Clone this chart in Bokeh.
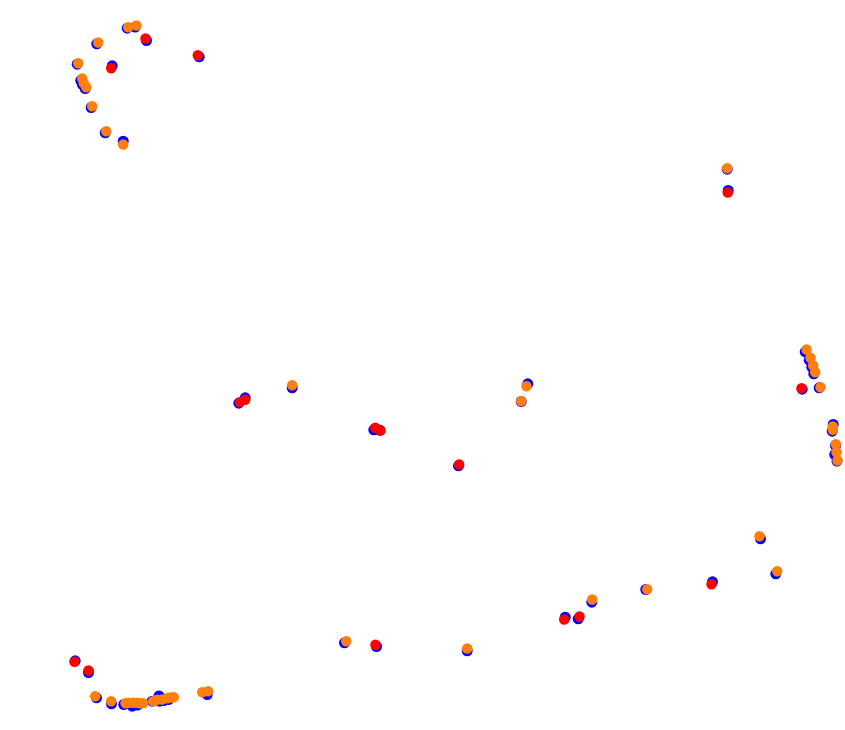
from bokeh.plotting import figure
from bokeh.models import Range1d
from bokeh.embed import file_html
from bokeh.resources import INLINE

# Reference positions (track map coordinates, y downward)
blue_x = [126.7, 134.7, 96.3, 146.0, 198.7, 76.7, 111.7, 80.3, 82.0, 84.7, 90.7, 104.7, 122.7,
          726.7, 727.7,
          804.7, 808.7, 811.3, 813.3, 801.7, 818.7, 832.7, 831.7, 835.0, 834.3, 836.5,
          238.3, 244.7, 291.7, 373.3, 379.0, 458.0, 527.3, 520.7,
          760.0, 775.3, 645.3, 712.0, 591.3, 564.7, 577.7,
          344.0, 376.0, 466.7,
          74.7, 88.0, 96.0, 111.0, 123.3, 131.7, 137.0, 151.7, 158.5, 159.3, 163.3, 168.0, 206.7]
blue_y = [27.7, 26.5, 43.3, 40.0, 56.3, 63.7, 65.3, 80.0, 84.0, 88.0, 107.0, 132.3, 140.7,
          168.7, 190.0,
          351.3, 359.7, 366.7, 373.3, 388.7, 387.3, 424.0, 430.7, 445.0, 454.0, 460.5,
          402.7, 397.3, 387.3, 429.3, 429.5, 465.3, 383.3, 401.0,
          538.3, 573.3, 589.0, 581.3, 601.7, 616.7, 618.3,
          642.3, 646.0, 650.3,
          660.3, 672.0, 697.3, 703.3, 704.0, 705.7, 704.5, 700.7, 695.5, 700.7, 700.0, 699.0, 694.0]

red_x = [145.0, 197.3, 110.7, 727.3, 801.0, 239.3, 244.7, 374.7, 380.0, 458.7, 711.0, 563.7, 579.0, 375.0, 74.0, 88.0]
red_y = [38.0, 54.7, 67.7, 192.0, 387.7, 401.7, 399.3, 427.3, 430.0, 464.0, 583.7, 619.0, 616.0, 644.3, 661.3, 670.0]

orange_x = [127.7, 136.0, 97.7, 77.7, 81.7, 83.3, 85.7, 91.7, 105.7, 122.7,
            726.7,
            806.0, 810.0, 812.7, 814.7, 820.0, 832.3, 832.3, 835.3, 836.0, 837.0,
            291.7, 526.0, 520.7,
            759.0, 776.7, 646.7, 591.7,
            345.7, 466.7,
            94.7, 110.7, 125.0, 128.3, 132.7, 136.7, 139.3, 142.7, 152.7, 156.7, 161.7, 166.7, 170.0, 173.3,
            201.7, 207.7]
orange_y = [26.7, 25.0, 42.0, 62.7, 78.0, 82.7, 86.7, 105.7, 130.7, 144.0,
            167.7,
            349.0, 357.3, 365.0, 371.7, 386.7, 426.0, 429.3, 443.7, 451.7, 460.0,
            384.7, 385.7, 400.7,
            535.7, 570.7, 588.7, 599.0,
            640.7, 648.0,
            695.7, 700.7, 702.7, 702.3, 702.3, 702.3, 702.7, 702.7, 700.7, 699.3, 699.0, 697.7, 697.0, 696.7,
            691.7, 690.7]

p = figure(width=845, height=730, output_backend="svg", toolbar_location=None,
           x_range=Range1d(0, 845), y_range=Range1d(730, 0),
           min_border=0, min_border_left=0, min_border_right=0,
           min_border_top=0, min_border_bottom=0)
p.axis.visible = False
p.grid.visible = False
p.outline_line_color = None
p.background_fill_color = "white"
p.border_fill_color = "white"

p.scatter(blue_x, blue_y, size=11, color="#0000ff", line_color=None)
p.scatter(red_x, red_y, size=10.5, color="#ff0000", line_color=None)
p.scatter(orange_x, orange_y, size=10.5, color="#ff7f0e", line_color=None)

open("out.html", "w").write(file_html(p, INLINE))
